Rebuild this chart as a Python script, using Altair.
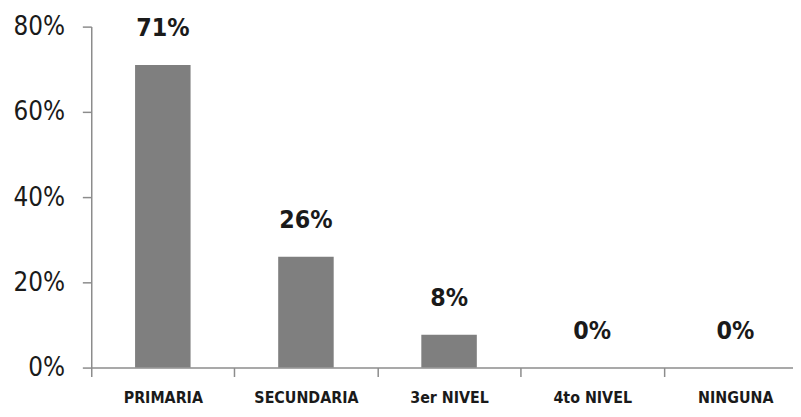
import altair as alt
import pandas as pd

categories = ["PRIMARIA", "SECUNDARIA", "3er NIVEL", "4to NIVEL", "NINGUNA"]
values = [0.71, 0.26, 0.077, 0.0, 0.0]
y_ticks = [0, 0.2, 0.4, 0.6, 0.8]

df = pd.DataFrame({"cat": categories, "val": values})

FONT = "DejaVu Sans Condensed"

x = alt.X(
    "cat:N",
    sort=categories,
    title=None,
    scale=alt.Scale(paddingInner=0, paddingOuter=0, range=[0, 722]),
    axis=alt.Axis(
        labelAngle=0,
        tickBand="extent",
        tickSize=9,
        labelPadding=13,
        labelFont=FONT,
        labelFontWeight="bold",
        labelFontSize=16,
        labelColor="#1a1a1a",
        domainColor="#8c8c8c",
        tickColor="#8c8c8c",
        domainWidth=1.5,
        tickWidth=1.5,
        grid=False,
    ),
)
y = alt.Y(
    "val:Q",
    title=None,
    scale=alt.Scale(domain=[0, 0.8], nice=False),
    axis=alt.Axis(
        values=y_ticks,
        format=".0%",
        tickSize=9,
        labelPadding=18,
        labelFont=FONT,
        labelFontSize=26,
        labelColor="#1a1a1a",
        domainColor="#8c8c8c",
        tickColor="#8c8c8c",
        domainWidth=1.5,
        tickWidth=1.5,
        grid=False,
    ),
)

bars = alt.Chart(df).mark_bar(width=56, color="#7f7f7f").encode(x=x, y=y)
labels = alt.Chart(df).mark_text(
    dy=-29, baseline="alphabetic", font=FONT, fontSize=25, fontWeight="bold", color="#1a1a1a"
).encode(x=x, y=y, text=alt.Text("val:Q", format=".0%"))

chart = (
    alt.layer(bars, labels)
    .properties(
        width=708,
        height=344,
        autosize=alt.AutoSizeParams(type="none"),
        padding={"left": 84, "top": 17, "right": 0, "bottom": 40},
    )
    .configure_view(stroke=None)
)

chart.save("out.html", embed_options={"renderer": "svg", "actions": False})
